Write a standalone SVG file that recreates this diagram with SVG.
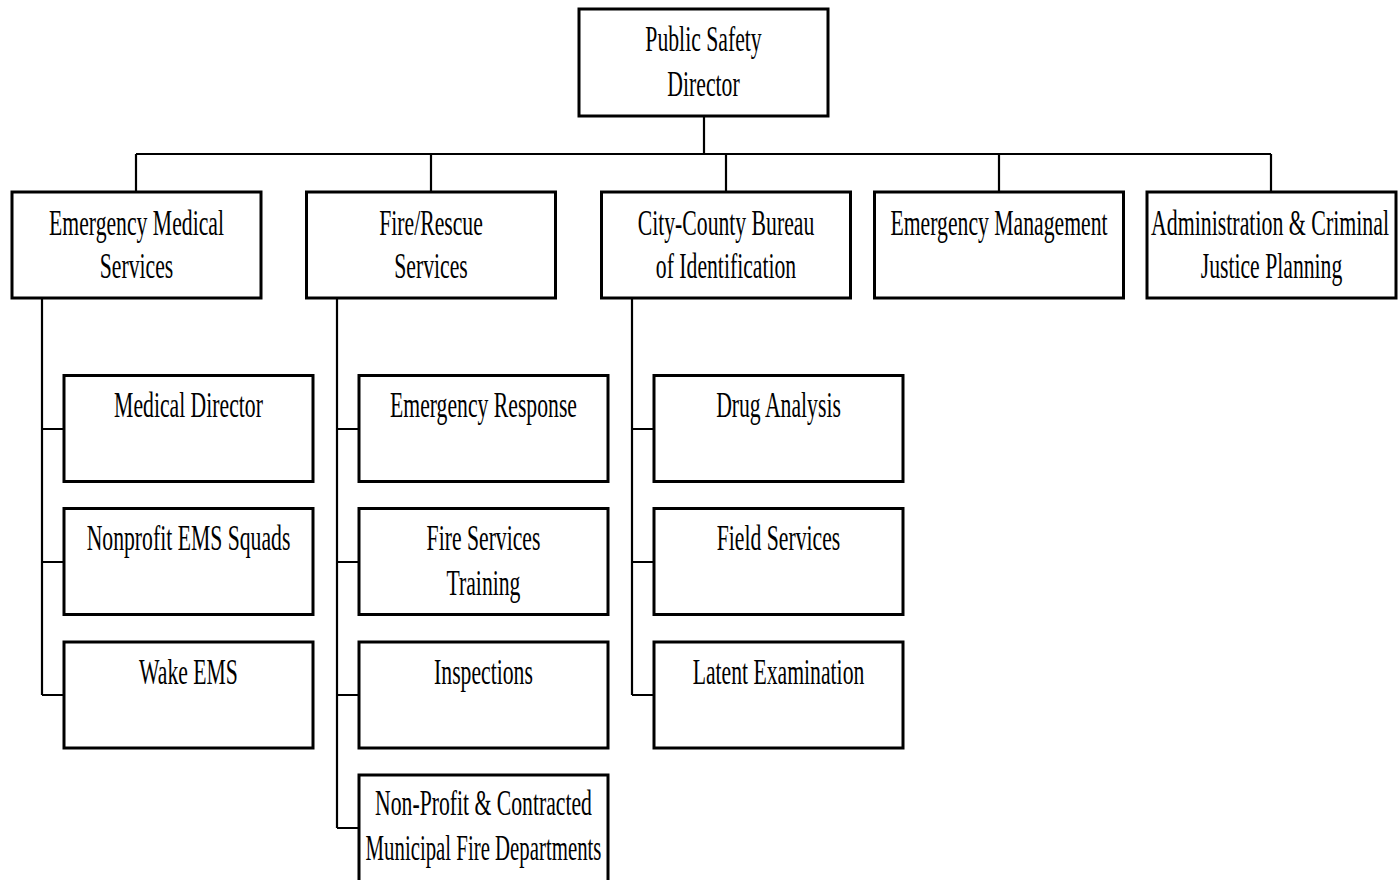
<svg xmlns="http://www.w3.org/2000/svg" width="1398" height="880" viewBox="0 0 1398 880">
<style>
.box{fill:#fff;stroke:#000;stroke-width:3}
.c{fill:none;stroke:#000;stroke-width:2.2}
.t{font-family:'Liberation Serif',serif;font-size:35px;fill:#000;text-anchor:middle}
</style>
<rect width="1398" height="880" fill="#fff"/>
<g id="connectors">
<path class="c" d="M704 116V154M136 154H1271M136 154V192M431 154V192M726 154V192M999 154V192M1271 154V192"/>
<path class="c" d="M42 298V695M42 429H64M42 562H64M42 695H64"/>
<path class="c" d="M337 298V828M337 429H359M337 562H359M337 695H359M337 828H359"/>
<path class="c" d="M632 298V695M632 429H654M632 562H654M632 695H654"/>
</g>
<g id="director"><rect class="box" x="579" y="9" width="249" height="107"/>
<text class="t" transform="translate(703.5,51) scale(0.62,1)">Public Safety</text>
<text class="t" transform="translate(703.5,96) scale(0.62,1)">Director</text></g>
<g id="ems"><rect class="box" x="12" y="192" width="249" height="106"/>
<text class="t" transform="translate(136.5,235) scale(0.62,1)">Emergency Medical</text>
<text class="t" transform="translate(136.5,278) scale(0.62,1)">Services</text></g>
<g id="fire"><rect class="box" x="306.5" y="192" width="249" height="106"/>
<text class="t" transform="translate(431,235) scale(0.62,1)">Fire/Rescue</text>
<text class="t" transform="translate(431,278) scale(0.62,1)">Services</text></g>
<g id="ccbi"><rect class="box" x="601.5" y="192" width="249" height="106"/>
<text class="t" transform="translate(726,235) scale(0.62,1)">City-County Bureau</text>
<text class="t" transform="translate(726,278) scale(0.62,1)">of Identification</text></g>
<g id="em"><rect class="box" x="874.5" y="192" width="249" height="106"/>
<text class="t" transform="translate(999,235) scale(0.62,1)">Emergency Management</text></g>
<g id="admin"><rect class="box" x="1147" y="192" width="249" height="106"/>
<text class="t" transform="translate(1270,235) scale(0.625,1)">Administration &amp; Criminal</text>
<text class="t" transform="translate(1271.5,278) scale(0.62,1)">Justice Planning</text></g>
<g id="medical-director"><rect class="box" x="64" y="375.5" width="249" height="106"/>
<text class="t" transform="translate(188.5,417) scale(0.62,1)">Medical Director</text></g>
<g id="nonprofit-ems"><rect class="box" x="64" y="508.5" width="249" height="106"/>
<text class="t" transform="translate(188.5,550) scale(0.62,1)">Nonprofit EMS Squads</text></g>
<g id="wake-ems"><rect class="box" x="64" y="642" width="249" height="106"/>
<text class="t" transform="translate(188.5,683.5) scale(0.62,1)">Wake EMS</text></g>
<g id="emergency-response"><rect class="box" x="359" y="375.5" width="249" height="106"/>
<text class="t" transform="translate(483.5,417) scale(0.62,1)">Emergency Response</text></g>
<g id="fire-training"><rect class="box" x="359" y="508.5" width="249" height="106"/>
<text class="t" transform="translate(483.5,550) scale(0.62,1)">Fire Services</text>
<text class="t" transform="translate(483.5,595) scale(0.62,1)">Training</text></g>
<g id="inspections"><rect class="box" x="359" y="642" width="249" height="106"/>
<text class="t" transform="translate(483.5,683.5) scale(0.62,1)">Inspections</text></g>
<g id="nonprofit-fire"><rect class="box" x="359" y="775" width="249" height="110"/>
<text class="t" transform="translate(483.5,815) scale(0.62,1)">Non-Profit &amp; Contracted</text>
<text class="t" transform="translate(483.5,860) scale(0.595,1)">Municipal Fire Departments</text></g>
<g id="drug-analysis"><rect class="box" x="654" y="375.5" width="249" height="106"/>
<text class="t" transform="translate(778.5,417) scale(0.62,1)">Drug Analysis</text></g>
<g id="field-services"><rect class="box" x="654" y="508.5" width="249" height="106"/>
<text class="t" transform="translate(778.5,550) scale(0.62,1)">Field Services</text></g>
<g id="latent"><rect class="box" x="654" y="642" width="249" height="106"/>
<text class="t" transform="translate(778.5,683.5) scale(0.62,1)">Latent Examination</text></g>
</svg>
